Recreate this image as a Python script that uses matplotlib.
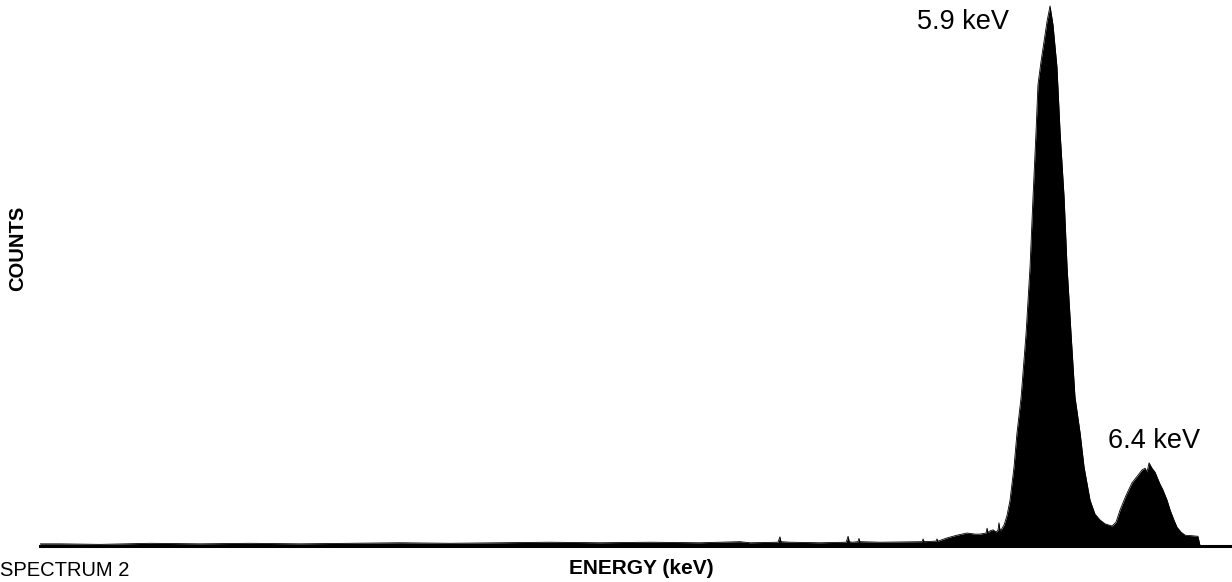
import matplotlib
matplotlib.use("Agg")
import matplotlib.pyplot as plt

# -------- spectrum data --------
energy_kev = [
    0.799, 0.900, 1.102, 1.355, 1.607, 1.860, 2.112, 2.365, 2.617, 2.870,
    3.122, 3.375, 3.627, 3.880, 4.132, 4.334, 4.385, 4.526, 4.531, 4.536,
    4.541, 4.587, 4.738, 4.870, 4.875, 4.880, 4.886, 4.900, 4.930, 4.935,
    4.940, 5.041, 5.254, 5.259, 5.264, 5.324, 5.329, 5.334, 5.380, 5.430,
    5.481, 5.521, 5.546, 5.577, 5.582, 5.587, 5.597, 5.612, 5.627, 5.637,
    5.642, 5.647, 5.653, 5.668, 5.683, 5.698, 5.718, 5.733, 5.754, 5.779,
    5.799, 5.814, 5.829, 5.839, 5.854, 5.870, 5.885, 5.900, 5.915, 5.935,
    5.951, 5.971, 5.986, 6.006, 6.026, 6.052, 6.072, 6.102, 6.127, 6.153,
    6.178, 6.213, 6.233, 6.254, 6.284, 6.314, 6.344, 6.365, 6.380, 6.390,
    6.400, 6.415, 6.430, 6.440, 6.455, 6.470, 6.491, 6.506, 6.526, 6.541,
    6.561, 6.582, 6.617, 6.647, 6.658,
]
counts = [
    4, 4, 3, 5, 4, 5, 4, 5, 6, 5,
    6, 7, 6, 7, 6, 8, 6, 7, 12, 17,
    8, 7, 6, 7, 12, 18, 8, 7, 8, 14,
    8, 7, 8, 13, 8, 9, 13, 9, 15, 20,
    24, 22, 22, 24, 33, 25, 28, 30, 26, 29,
    43, 30, 30, 39, 57, 85, 146, 209, 276, 394,
    517, 646, 765, 854, 896, 935, 972, 1000, 965, 887,
    765, 646, 517, 394, 276, 209, 146, 85, 59, 48,
    41, 37, 44, 67, 94, 117, 131, 141, 144, 137,
    154, 144, 137, 128, 115, 104, 85, 67, 48, 35,
    26, 20, 19, 18, 0,
]
peak_labels = ["5.9 keV", "6.4 keV"]
peak_label_pos = [(5.228, 970), (6.193, 194)]   # (keV, counts) at left edge of label

FONT = "Liberation Sans"

fig = plt.figure(figsize=(12.32, 5.82), dpi=100)
ax = fig.add_axes([40 / 1232, 36 / 582, 1192 / 1232, 546 / 582])

ax.fill_between(energy_kev, counts, 0, color="black", lw=0)
ax.plot(energy_kev, counts, color="black", lw=0.6)

ax.set_xlim(0.799, 6.819)
ax.set_ylim(0, 1011)
ax.set_xticks([])
ax.set_yticks([])
for side in ("top", "right", "left"):
    ax.spines[side].set_visible(False)
ax.spines["bottom"].set_linewidth(2.2)
ax.spines["bottom"].set_color("black")
ax.patch.set_alpha(0)

for txt, (xe, yc) in zip(peak_labels, peak_label_pos):
    ax.text(xe, yc, txt, fontsize=19.5, family=FONT, ha="left", va="center")

# axis captions placed in figure pixels
fig.text(18 / 1232, 1 - 248 / 582, "COUNTS", rotation=90, fontsize=14.5,
         fontweight="bold", family=FONT, ha="center", va="center")
fig.text(641 / 1232, 1 - 568 / 582, "ENERGY (keV)", fontsize=15,
         fontweight="bold", family=FONT, ha="center", va="center")
fig.text(0.5 / 1232, 1 - 570 / 582, "SPECTRUM 2", fontsize=14.5,
         family=FONT, ha="left", va="center")

fig.savefig("out.png", dpi=100)
